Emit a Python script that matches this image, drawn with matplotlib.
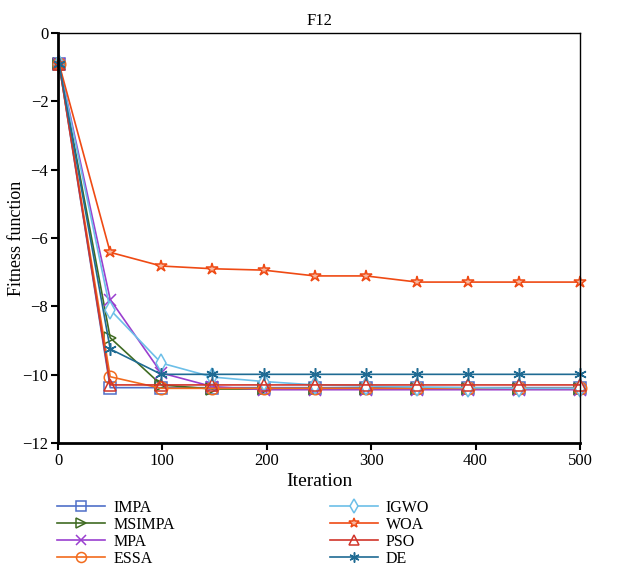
import matplotlib
matplotlib.use("Agg")
import matplotlib.pyplot as plt

# iterations where the curves were sampled
iters = [1, 50, 99, 148, 197, 246, 295, 344, 393, 442, 500]

impa   = [-0.9, -10.38, -10.38, -10.38, -10.38, -10.38, -10.38, -10.38, -10.38, -10.38, -10.38]
msimpa = [-0.9, -8.92, -10.30, -10.42, -10.42, -10.42, -10.42, -10.42, -10.42, -10.42, -10.42]
mpa    = [-0.9, -7.80, -9.95, -10.35, -10.44, -10.44, -10.44, -10.44, -10.44, -10.44, -10.44]
essa   = [-0.9, -10.06, -10.40, -10.40, -10.40, -10.40, -10.40, -10.40, -10.40, -10.40, -10.40]
igwo   = [-0.9, -8.10, -9.66, -10.07, -10.20, -10.30, -10.33, -10.36, -10.38, -10.40, -10.40]
woa    = [-0.9, -6.42, -6.82, -6.90, -6.94, -7.11, -7.11, -7.29, -7.29, -7.29, -7.29]
pso    = [-0.9, -10.30, -10.30, -10.30, -10.30, -10.30, -10.30, -10.30, -10.30, -10.30, -10.30]
de     = [-0.9, -9.25, -9.99, -9.99, -9.99, -9.99, -9.99, -9.99, -9.99, -9.99, -9.99]

names = ["IMPA", "MSIMPA", "MPA", "ESSA", "IGWO", "WOA", "PSO", "DE"]
series = [impa, msimpa, mpa, essa, igwo, woa, pso, de]
colors = ["#4f6fc8", "#3f6b22", "#9a3fcf", "#f26b1d", "#6cbfe8", "#ef4a14", "#d1352a", "#1f6b93"]
markers = ["s", ">", "x", "o", "d", "*", "^", (6, 2, 0)]
faces = ["none", "none", "none", "none", "white", "#f7b8a0", "none", "none"]

plt.rcParams['font.family'] = ['Liberation Serif', 'DejaVu Serif']
plt.rcParams['font.size'] = 12

f = plt.figure(figsize=(6.23, 5.66), dpi=100)
ax = f.add_axes([0.0931, 0.2173, 0.8378, 0.7244])

for name, y, c, m, fc in zip(names, series, colors, markers, faces):
    ax.plot(iters, y, color=c, marker=m, markersize=9, markerfacecolor=fc,
            markeredgecolor=c, markeredgewidth=1.1, linewidth=1.2, label=name,
            clip_on=False)

ax.set_xlim(0, 500)
ax.set_ylim(-12, 0)
ax.set_xticks(range(0, 501, 100))
ax.set_yticks(range(-12, 1, 2))
ax.set_yticklabels(["\u221212", "\u221210", "\u22128", "\u22126", "\u22124", "\u22122", "0"])
ax.set_title("F12", fontsize=12, pad=6)
ax.set_xlabel("Iteration", fontsize=14, labelpad=3)
ax.set_ylabel("Fitness function", fontsize=13)
ax.yaxis.set_label_coords(-0.064, 0.5)

for s in ["left", "bottom"]:
    ax.spines[s].set_linewidth(2)
for s in ["top", "right"]:
    ax.spines[s].set_linewidth(1)
ax.tick_params(direction="out", length=5, width=1.5, labelsize=12, pad=2)

ax.legend(loc="upper left", bbox_to_anchor=(0.092, 0.117), bbox_transform=f.transFigure,
          ncol=2, frameon=False, handlelength=3.0, columnspacing=9.7, markerscale=0.8,
          labelspacing=0.06, fontsize=11.5, borderaxespad=0, borderpad=0,
          handletextpad=0.5)

f.savefig("out.png", dpi=100)
